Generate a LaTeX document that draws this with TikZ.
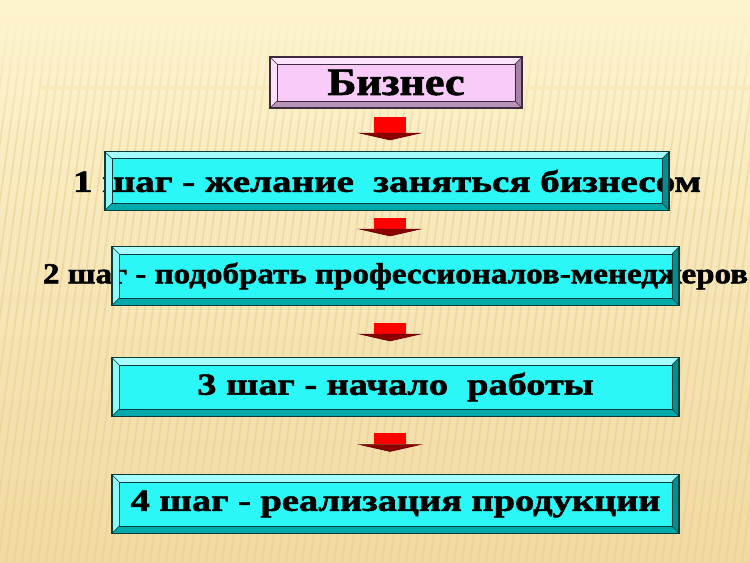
\documentclass[tikz,border=0pt]{standalone}
\usepackage{fontspec}
\setmainfont{Liberation Serif}[BoldFeatures={FakeBold=1.6}]
\usepackage{graphicx}
\usepackage{tikz}
\usetikzlibrary{arrows.meta, positioning, calc, fadings}

\definecolor{bgtop}{HTML}{FDF3CE}
\definecolor{bgmid}{HTML}{FAEAB9}
\definecolor{bgbot}{HTML}{F1D9A3}
\definecolor{stripecol}{HTML}{E9CD88}
\definecolor{lineorange}{HTML}{E0AC42}
\definecolor{cyanface}{HTML}{2CF7F7}
\definecolor{cyantop}{HTML}{A6FFFF}
\definecolor{cyanleft}{HTML}{8CFAFA}
\definecolor{cyanright}{HTML}{008F8F}
\definecolor{cyanbot}{HTML}{00AAAA}
\definecolor{cyanline}{HTML}{0B3C3C}
\definecolor{pinkface}{HTML}{F8CBF8}
\definecolor{pinktop}{HTML}{FDE6FD}
\definecolor{pinkleft}{HTML}{FBE0FB}
\definecolor{pinkright}{HTML}{A583A5}
\definecolor{pinkbot}{HTML}{B894B8}
\definecolor{pinkline}{HTML}{3E2A3E}

% bevelled frame drawn over a box node: name, top, left, right, bottom, line
\newcommand{\bevelframe}[6]{%
  \fill[#2] (#1.north west) -- (#1.north east) -- ([shift={(-0.14cm,-0.14cm)}]#1.north east) -- ([shift={(0.14cm,-0.14cm)}]#1.north west) -- cycle;
  \fill[#3] (#1.north west) -- ([shift={(0.14cm,-0.14cm)}]#1.north west) -- ([shift={(0.14cm,0.14cm)}]#1.south west) -- (#1.south west) -- cycle;
  \fill[#4] (#1.north east) -- ([shift={(-0.14cm,-0.14cm)}]#1.north east) -- ([shift={(-0.14cm,0.14cm)}]#1.south east) -- (#1.south east) -- cycle;
  \fill[#5] (#1.south west) -- ([shift={(0.14cm,0.14cm)}]#1.south west) -- ([shift={(-0.14cm,0.14cm)}]#1.south east) -- (#1.south east) -- cycle;
  \draw[#6, line width=0.3pt] ([shift={(0.14cm,-0.14cm)}]#1.north west) rectangle ([shift={(-0.14cm,0.14cm)}]#1.south east);
  \draw[#6, line width=0.3pt] (#1.north west) -- ([shift={(0.14cm,-0.14cm)}]#1.north west)
    (#1.north east) -- ([shift={(-0.14cm,-0.14cm)}]#1.north east)
    (#1.south west) -- ([shift={(0.14cm,0.14cm)}]#1.south west)
    (#1.south east) -- ([shift={(-0.14cm,0.14cm)}]#1.south east);
  \draw[#6, line width=0.8pt] (#1.north west) rectangle (#1.south east);
}

\begin{document}
\begin{tikzpicture}[
    x=0.02cm, y=-0.02cm,
    stepbox/.style={fill=cyanface, inner sep=0pt, outer sep=0pt, minimum width=11.34cm, minimum height=1.17cm, font=\bfseries\fontsize{17.5}{20}\selectfont},
    titlebox/.style={fill=pinkface, inner sep=0pt, outer sep=0pt, minimum width=5.04cm, minimum height=1.02cm, font=\bfseries\fontsize{22}{26}\selectfont},
    stripe/.style={stripecol, opacity=0.5, line width=1pt},
    flowarrow/.style={red, line width=0.64cm, line cap=butt, -{Triangle[width=1.32cm, length=0.15cm, line width=0.4pt, fill=red!55!black, color=red!40!black]}}
]
    % background
    \useasboundingbox (0,0) rectangle (750,562);
    \shade[top color=bgtop, middle color=bgmid, bottom color=bgbot] (0,0) rectangle (750,562);
    \foreach \i in {-90,-82,...,760}
        \draw[stripe] (\i,562) -- (\i+75,20);
    \fill[bgtop, path fading=south] (0,0) rectangle (750,150);
    \shade[left color=bgmid, middle color=lineorange, right color=bgmid] (40,86.5) rectangle (750,89.5);

    % boxes
    \node[titlebox] (biz) at (396,82.5) {\makebox[0pt]{\scalebox{1.14}[1]{Бизнес}}};
    \node[stepbox, minimum width=11.28cm] (s1) at (387,181) {\makebox[0pt]{\scalebox{1.27}[1]{1 шаг - желание\ \ заняться бизнесом}}};
    \node[stepbox, font=\bfseries\fontsize{16.5}{19}\selectfont] (s2) at (395.5,276) {\makebox[0pt]{\scalebox{1.14}[1]{2 шаг - подобрать профессионалов-менеджеров}}};
    \node[stepbox] (s3) at (395.5,387) {\makebox[0pt]{\scalebox{1.245}[1]{3 шаг - начало\ \ работы}}};
    \node[stepbox] (s4) at (395.5,504) {\makebox[0pt]{\scalebox{1.25}[1]{4 шаг - реализация продукции}}};

    \bevelframe{biz}{pinktop}{pinkleft}{pinkright}{pinkbot}{pinkline}
    \foreach \n in {s1,s2,s3,s4}{
        \bevelframe{\n}{cyantop}{cyanleft}{cyanright}{cyanbot}{cyanline}
    }

    % arrows
    \coordinate (axis) at (390,0);
    \draw[flowarrow, shorten <=0.18cm, shorten >=0.23cm] (biz.south -| axis) -- (s1.north -| axis);
    \draw[flowarrow, shorten <=0.16cm, shorten >=0.21cm] (s1.south -| axis) -- (s2.north -| axis);
    \draw[flowarrow, shorten <=0.36cm, shorten >=0.33cm] (s2.south -| axis) -- (s3.north -| axis);
    \draw[flowarrow, shorten <=0.33cm, shorten >=0.46cm] (s3.south -| axis) -- (s4.north -| axis);
\end{tikzpicture}
\end{document}
